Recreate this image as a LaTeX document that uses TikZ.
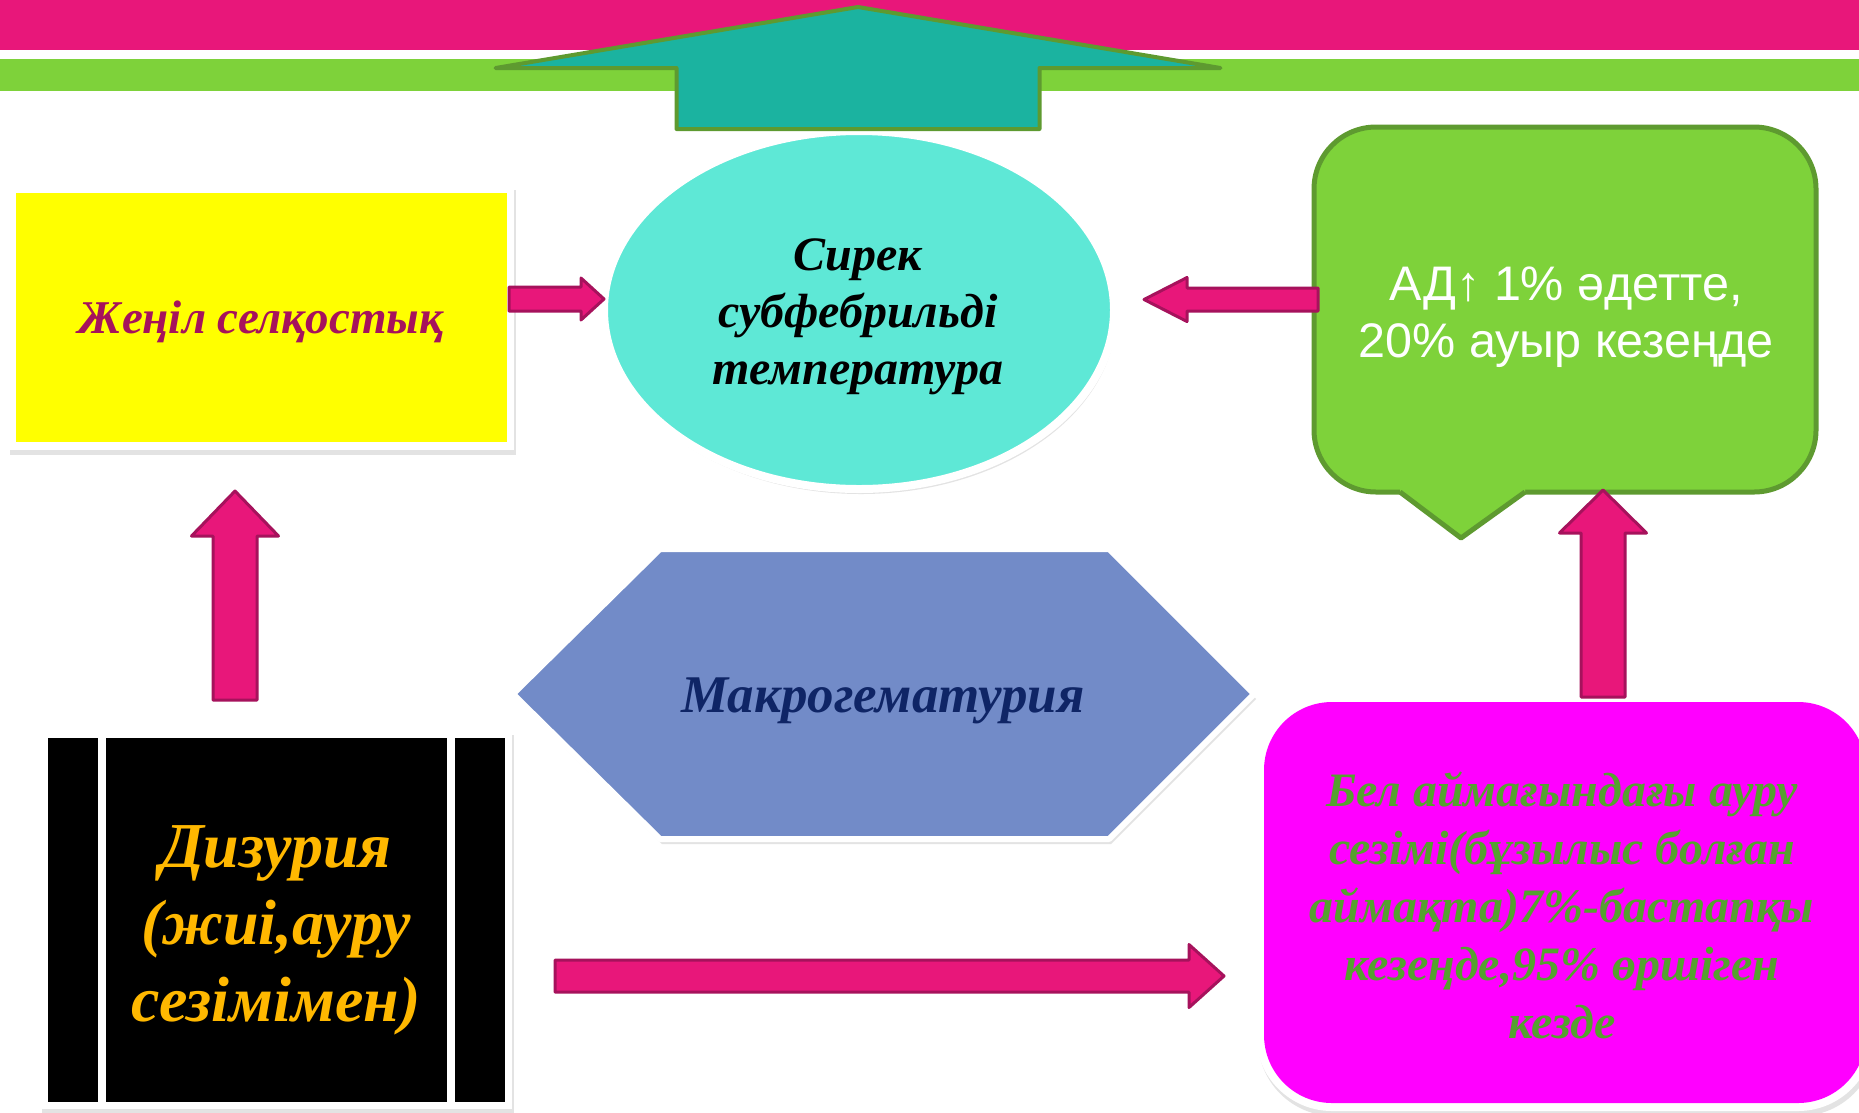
\documentclass[tikz,border=0pt]{standalone}
\usepackage{fontspec}
\setmainfont{Liberation Serif}
\newfontfamily\sansf{Liberation Sans}
\usetikzlibrary{calc,shapes.geometric,shadows}
\definecolor{pinkbar}{HTML}{E8177A}
\definecolor{greenbar}{HTML}{7ED23A}
\definecolor{greenline}{HTML}{5E9A30}
\definecolor{tealarr}{HTML}{1BB3A0}
\definecolor{ellfill}{HTML}{5EE8D6}
\definecolor{hexfill}{HTML}{728BC8}
\definecolor{hextext}{HTML}{0F2566}
\definecolor{arrfill}{HTML}{E8177A}
\definecolor{arrline}{HTML}{A6125C}
\definecolor{yeltext}{HTML}{A6125C}
\definecolor{goldtext}{HTML}{FFB800}
\definecolor{magfill}{HTML}{FF00FF}
\definecolor{magtext}{HTML}{56A030}
\definecolor{yelfill}{HTML}{FFFF00}
\tikzset{
  softshadow/.style={drop shadow={opacity=0.22,shadow xshift=2pt,shadow yshift=-5pt}},
  arrowshape/.style={fill=arrfill,draw=arrline,line width=3pt,line join=round},
  tealshape/.style={fill=tealarr,draw=greenline,line width=4pt,line join=round},
  frame/.style={fill=white,inner sep=0pt,outer sep=0pt,softshadow},
  plain/.style={inner sep=0pt,outer sep=0pt},
  sertext/.style={align=center,font=\bfseries\itshape},
}
\newcommand\blockarrow[6]{% style, tail, tip, half shaft, half head, head length
  \coordinate (hb) at ($(#3)!#6!(#2)$);
  \draw[#1] ($(#2)!#4!90:(#3)$) -- ($(hb)!#4!90:(#3)$) -- ($(hb)!#5!90:(#3)$)
    -- (#3) -- ($(hb)!#5!-90:(#3)$) -- ($(hb)!#4!-90:(#3)$) -- ($(#2)!#4!-90:(#3)$) -- cycle;
}
\begin{document}
\begin{tikzpicture}[x=1pt,y=-1pt]
\useasboundingbox (0,0) rectangle (1859,1112);
\fill[white] (0,0) rectangle (1859,1112);
% top bars
\fill[pinkbar] (0,0) rectangle (1859,50);
\fill[greenbar] (0,59) rectangle (1859,91);

% yellow box
\node[frame,minimum width=506pt,minimum height=265pt] (yelframe) at (261,317.5) {};
\node[plain,fill=yelfill,minimum width=491pt,minimum height=249pt] (yel) at (261,317.5) {};
\node[sertext,text=yeltext,font=\fontsize{47}{54}\selectfont\bfseries\itshape] (yeltxt) at (261,322) {Жеңіл селқостық};

% ellipse
\node[ellipse,fill=ellfill,draw=white,line width=8pt,minimum width=510pt,minimum height=358pt,softshadow,plain] (ell) at (859,310) {};
\node[sertext,font=\fontsize{48}{57}\selectfont\bfseries\itshape] (elltxt) at (858,317) {Сирек\\субфебрильді\\температура};

% big teal arrow
\coordinate (tA) at (858,129);
\coordinate (tB) at (858,7);
\blockarrow{tealshape}{tA}{tB}{181.5pt}{362.5pt}{61pt}

% callout
\draw[fill=greenbar,draw=greenline,line width=5pt,rounded corners=62pt] (1314,127) rectangle (1816,492);
\fill[greenbar] (1400,486) -- (1525,486) -- (1525,492) -- (1461,538) -- (1400,492) -- cycle;
\draw[greenline,line width=5pt,line join=round] (1400,492) -- (1461,538) -- (1525,492);
\node[align=center,text=white,font=\fontsize{48.5}{57}\selectfont\sansf] (calltxt) at (1566,317) {АД↑ 1\% әдетте,\\20\% ауыр кезеңде};

% hexagon
\draw[fill=hexfill,draw=white,line width=6pt,softshadow,line join=round] (513,694) -- (660,549) -- (1109,549) -- (1254,694) -- (1109,839) -- (660,839) -- cycle;
\node[sertext,text=hextext,font=\fontsize{53}{60}\selectfont\bfseries\itshape] (hextxt) at (883,701) {Макрогематурия};

% black box
\node[frame,minimum width=472pt,minimum height=379pt] (blkframe) at (276,919.5) {};
\fill[black] (47.5,738) rectangle (97.5,1102);
\fill[black] (106,738) rectangle (447,1102);
\fill[black] (455,738) rectangle (505,1102);
\node[sertext,text=goldtext,font=\fontsize{64}{77}\selectfont\bfseries\itshape] (blktxt) at (276,930) {Дизурия\\(жиі,ауру\\сезімімен)};

% magenta box
\fill[white,rounded corners=76pt,softshadow] (1256,694) rectangle (1874,1111);
\fill[magfill,rounded corners=68pt] (1264,702) rectangle (1866,1103);
\node[sertext,text=magtext,font=\fontsize{48}{58}\selectfont\bfseries\itshape] (magtxt) at (1562,905) {Бел аймағындағы ауру\\сезімі(бұзылыс болған\\аймақта)7\%-бастапқы\\кезеңде,95\% өршіген\\кезде};

% block arrows
\coordinate (a1s) at (235,700);  \coordinate (a1e) at (235,491);
\blockarrow{arrowshape}{a1s}{a1e}{22pt}{43.5pt}{45pt}
\coordinate (a2s) at (1603,697); \coordinate (a2e) at (1603,490);
\blockarrow{arrowshape}{a2s}{a2e}{22pt}{43.5pt}{43pt}
\coordinate (a3s) at (509,299);  \coordinate (a3e) at (604,299);
\blockarrow{arrowshape}{a3s}{a3e}{12pt}{21pt}{23pt}
\coordinate (a4s) at (1318,299.5); \coordinate (a4e) at (1144,299.5);
\blockarrow{arrowshape}{a4s}{a4e}{11.5pt}{22pt}{43pt}
\coordinate (a5s) at (555,976);  \coordinate (a5e) at (1224,976);
\blockarrow{arrowshape}{a5s}{a5e}{16pt}{31.5pt}{35pt}
\end{tikzpicture}
\end{document}
